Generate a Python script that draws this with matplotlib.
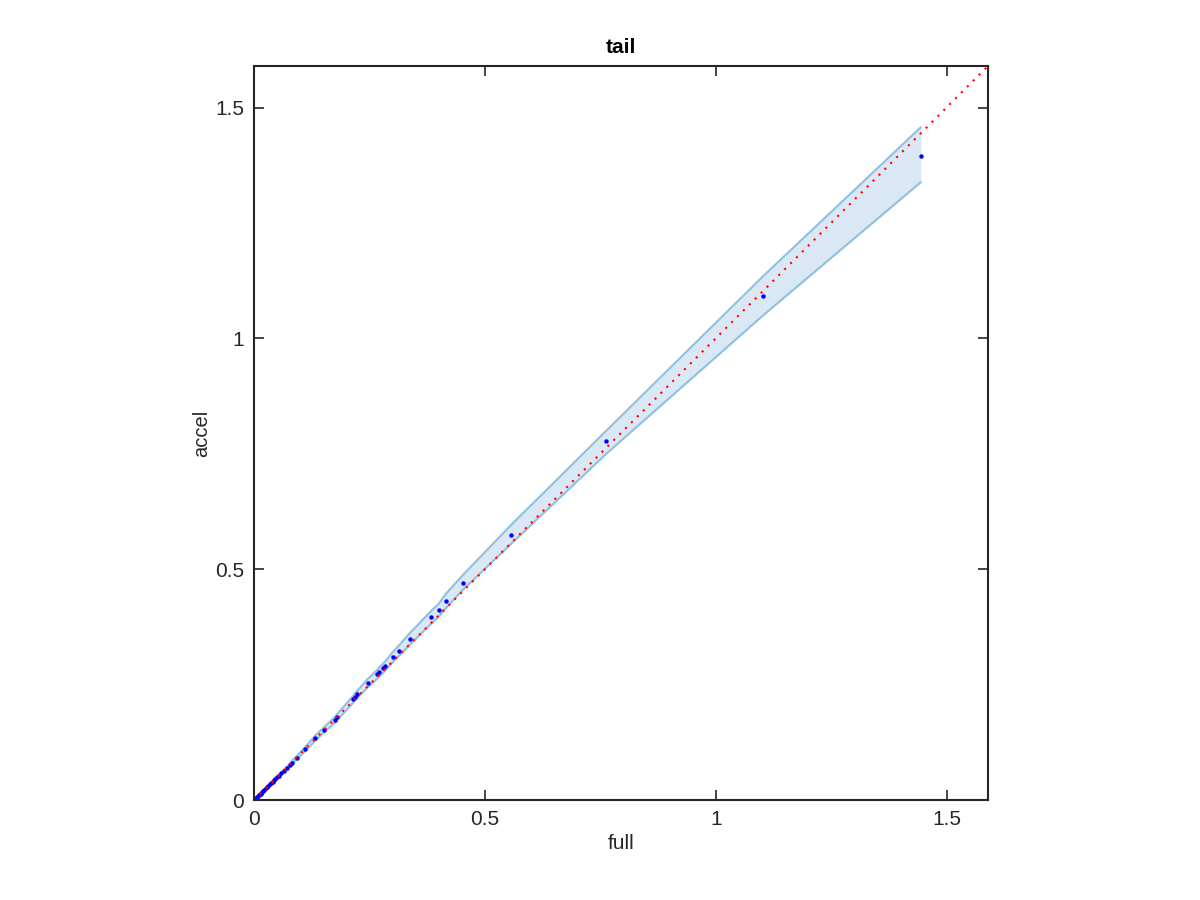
import numpy as np
import matplotlib
matplotlib.use("Agg")
import matplotlib.pyplot as plt

plt.rcParams['font.family'] = ['Liberation Sans', 'DejaVu Sans']

# puntos (full, accel)
full = [0.002, 0.004, 0.006, 0.008, 0.010, 0.012, 0.014, 0.017, 0.020, 0.022,
        0.025, 0.028, 0.031, 0.034, 0.037, 0.040, 0.043, 0.046, 0.049, 0.053,
        0.059, 0.064, 0.071, 0.077, 0.082, 0.093, 0.111, 0.133, 0.152, 0.176,
        0.180, 0.215, 0.219, 0.224, 0.246, 0.267, 0.271, 0.279, 0.284, 0.301,
        0.314, 0.337, 0.384, 0.400, 0.415, 0.453, 0.557, 0.763, 1.103, 1.444]
accel = [0.002, 0.004, 0.006, 0.008, 0.010, 0.012, 0.014, 0.017, 0.020, 0.022,
         0.025, 0.028, 0.031, 0.034, 0.037, 0.040, 0.043, 0.046, 0.049, 0.052,
         0.058, 0.062, 0.069, 0.075, 0.081, 0.092, 0.110, 0.134, 0.152, 0.174,
         0.179, 0.218, 0.224, 0.229, 0.253, 0.272, 0.277, 0.285, 0.290, 0.310,
         0.323, 0.348, 0.396, 0.411, 0.430, 0.470, 0.574, 0.777, 1.091, 1.396]
# limites de la banda
upper = [0.003, 0.005, 0.007, 0.009, 0.011, 0.013, 0.015, 0.018, 0.021, 0.023,
         0.026, 0.029, 0.032, 0.035, 0.039, 0.042, 0.045, 0.048, 0.051, 0.055,
         0.061, 0.065, 0.072, 0.078, 0.085, 0.096, 0.115, 0.140, 0.158, 0.181,
         0.186, 0.226, 0.232, 0.237, 0.262, 0.282, 0.287, 0.295, 0.300, 0.321,
         0.335, 0.361, 0.410, 0.425, 0.446, 0.488, 0.596, 0.800, 1.135, 1.457]
lower = [0.001, 0.003, 0.005, 0.007, 0.009, 0.011, 0.013, 0.016, 0.019, 0.021,
         0.024, 0.027, 0.030, 0.033, 0.036, 0.039, 0.041, 0.044, 0.047, 0.050,
         0.056, 0.060, 0.067, 0.072, 0.078, 0.089, 0.106, 0.129, 0.147, 0.168,
         0.173, 0.211, 0.216, 0.221, 0.244, 0.263, 0.267, 0.275, 0.280, 0.299,
         0.312, 0.336, 0.382, 0.397, 0.415, 0.456, 0.555, 0.750, 1.050, 1.338]

lim = 1.59
ticks = [0, 0.5, 1, 1.5]
tick_labels = ["0", "0.5", "1", "1.5"]

fig = plt.figure(figsize=(12, 9), dpi=100)
ax = fig.add_axes([0.2117, 0.1111, 0.6117, 0.8156])

ax.fill_between(full, lower, upper, color="#d9e8f4", lw=0)
ax.plot(full, upper, color="#8fc0e0", lw=1.5)
ax.plot(full, lower, color="#8fc0e0", lw=1.5)
ax.plot(full, accel, "o", color="blue", ms=3.2, mew=0)
ax.plot([0, lim], [0, lim], color="red", lw=1.5, linestyle=(0, (1, 3)))

ax.set_xlim(0, lim)
ax.set_ylim(0, lim)
ax.set_xticks(ticks)
ax.set_xticklabels(tick_labels)
ax.set_yticks(ticks)
ax.set_yticklabels(tick_labels)
ax.tick_params(direction="in", length=7, width=1.2, top=True, right=True,
               labelsize=15, colors="#262626", pad=7)
for s in ax.spines.values():
    s.set_linewidth(1.5)
    s.set_color("#262626")

ax.set_title("tail", fontsize=15, fontweight="bold", pad=9)
ax.set_xlabel("full", fontsize=15, color="#262626", labelpad=4)
ax.set_ylabel("accel", fontsize=14.5, color="#262626", labelpad=3)

fig.savefig("out.png", dpi=100)
